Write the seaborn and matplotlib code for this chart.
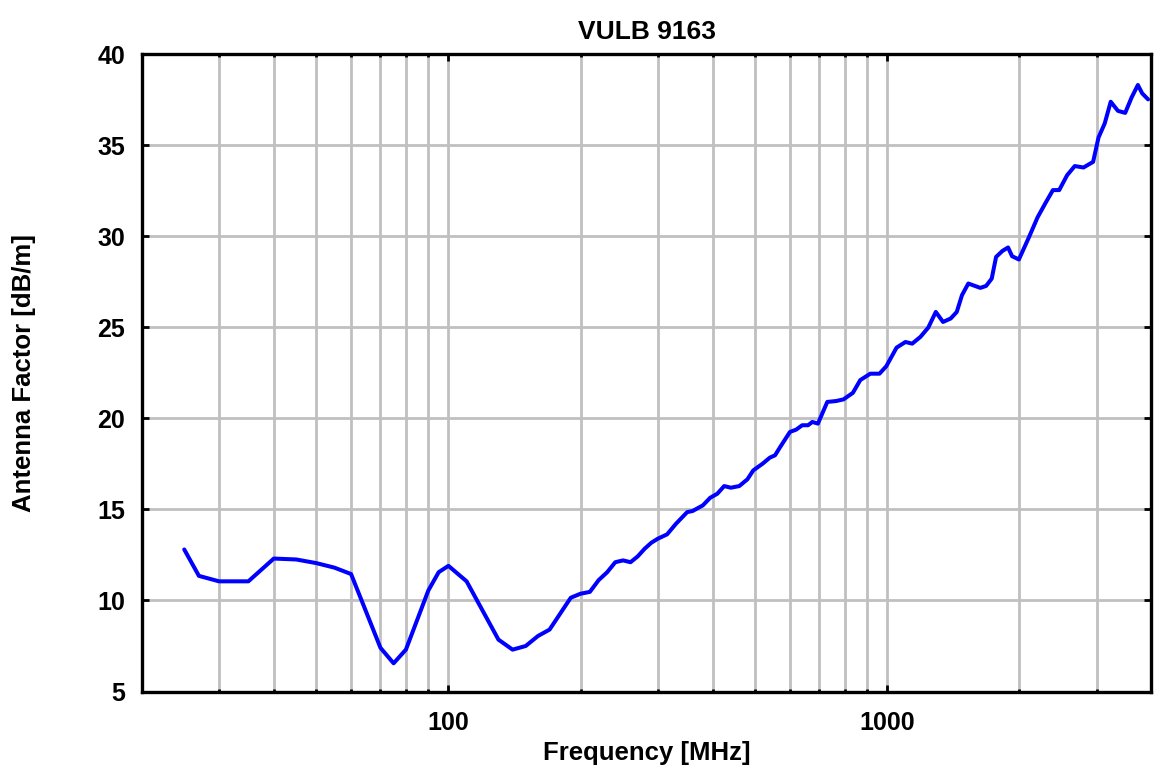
import matplotlib
matplotlib.use("Agg")
import matplotlib.pyplot as plt
import matplotlib.ticker as mticker
import seaborn as sns

# antenna factor
frequency_mhz = [
    25, 27, 30, 35, 40, 45, 50, 55, 60, 70, 75, 80, 90, 95, 100, 110,
    130, 140, 150, 160, 170, 190, 200, 210, 220, 230, 240, 250, 260, 270,
    280, 290, 300, 315, 330, 350, 360, 380, 395, 410, 425, 440, 460, 480,
    495, 520, 540, 555, 570, 600, 620, 640, 660, 675, 695, 730, 765, 795,
    835, 868, 915, 960, 995, 1050, 1100, 1140, 1190, 1240, 1290, 1340,
    1395, 1440, 1480, 1530, 1630, 1680, 1730, 1770, 1830, 1885, 1925, 1995,
    2105, 2200, 2295, 2385, 2465, 2570, 2675, 2800, 2945, 3030, 3130, 3230,
    3355, 3485, 3605, 3725, 3810, 3930,
]
antenna_factor = [
    12.8, 11.35, 11.05, 11.05, 12.3, 12.25, 12.05, 11.8, 11.45, 7.4, 6.55,
    7.3, 10.55, 11.55, 11.9, 11.05,
    7.85, 7.3, 7.5, 8.05, 8.4, 10.15, 10.37, 10.47, 11.12, 11.55, 12.1, 12.2,
    12.1, 12.42, 12.84, 13.17, 13.39, 13.63, 14.21, 14.85, 14.91, 15.22,
    15.64, 15.86, 16.28, 16.19, 16.28, 16.65, 17.14, 17.51, 17.84, 17.97,
    18.42, 19.25, 19.38, 19.62, 19.62, 19.8, 19.71, 20.9, 20.95, 21.04,
    21.4, 22.1, 22.45, 22.45, 22.86, 23.88, 24.19, 24.1, 24.47, 24.98,
    25.84, 25.29, 25.48, 25.84, 26.76, 27.4, 27.16, 27.27, 27.67, 28.86,
    29.19, 29.38, 28.9, 28.72, 29.96, 31.03, 31.83, 32.53, 32.53, 33.35,
    33.85, 33.77, 34.08, 35.42, 36.19, 37.38, 36.88, 36.77, 37.62, 38.3,
    37.84, 37.51,
]
y_ticks = [5, 10, 15, 20, 25, 30, 35, 40]

title = "VULB 9163"
x_label = "Frequency [MHz]"
y_label = "Antenna Factor [dB/m]"

sns.set_style("white")
plt.rcParams["font.family"] = ["Liberation Sans", "DejaVu Sans"]
plt.rcParams["font.weight"] = "bold"
plt.rcParams["text.color"] = "black"
plt.rcParams["axes.labelcolor"] = "black"
plt.rcParams["xtick.color"] = "black"
plt.rcParams["ytick.color"] = "black"

fig = plt.figure(figsize=(11.54, 7.73), dpi=100)
ax = fig.add_axes([0.1228, 0.1054, 0.875, 0.8247])

sns.lineplot(
    x=frequency_mhz,
    y=antenna_factor,
    color="#0000ff",
    linewidth=2.9,
    estimator=None,
    sort=False,
    ax=ax,
    zorder=3,
)

ax.set_xscale("log")
ax.set_xlim(20, 4000)
ax.set_ylim(5, 40)
ax.set_yticks(y_ticks)

ax.xaxis.set_major_locator(mticker.LogLocator(base=10))
ax.xaxis.set_minor_locator(mticker.LogLocator(base=10, subs=range(2, 10)))
ax.xaxis.set_major_formatter(mticker.FuncFormatter(lambda v, p: f"{v:.0f}"))
ax.xaxis.set_minor_formatter(mticker.NullFormatter())

ax.grid(True, which="both", axis="x", color="#c0c0c0", linewidth=2)
ax.grid(True, which="major", axis="y", color="#c0c0c0", linewidth=2)
ax.set_axisbelow(True)

for spine in ax.spines.values():
    spine.set_visible(True)
    spine.set_color("black")
    spine.set_linewidth(2.4)

ax.tick_params(
    which="major", direction="in", length=5, width=2, color="black",
    labelcolor="black", top=True, right=True, bottom=True, left=True,
    labelsize=18,
)
ax.tick_params(axis="x", which="major", pad=14)
ax.tick_params(axis="y", which="major", pad=12)
ax.tick_params(
    which="minor", direction="in", length=2.5, width=2, color="black",
    top=True, bottom=True,
)

for lbl in ax.get_xticklabels() + ax.get_yticklabels():
    lbl.set_fontweight("bold")

ax.set_title(title, fontsize=19, fontweight="bold", pad=11, color="black")
ax.set_xlabel(x_label, fontsize=18.5, fontweight="bold", color="black")
ax.set_ylabel(y_label, fontsize=18.5, fontweight="bold", color="black")
ax.xaxis.set_label_coords(0.5, -0.077)
ax.yaxis.set_label_coords(-0.1047, 0.5)

plt.savefig("out.png", dpi=100)
plt.close()
